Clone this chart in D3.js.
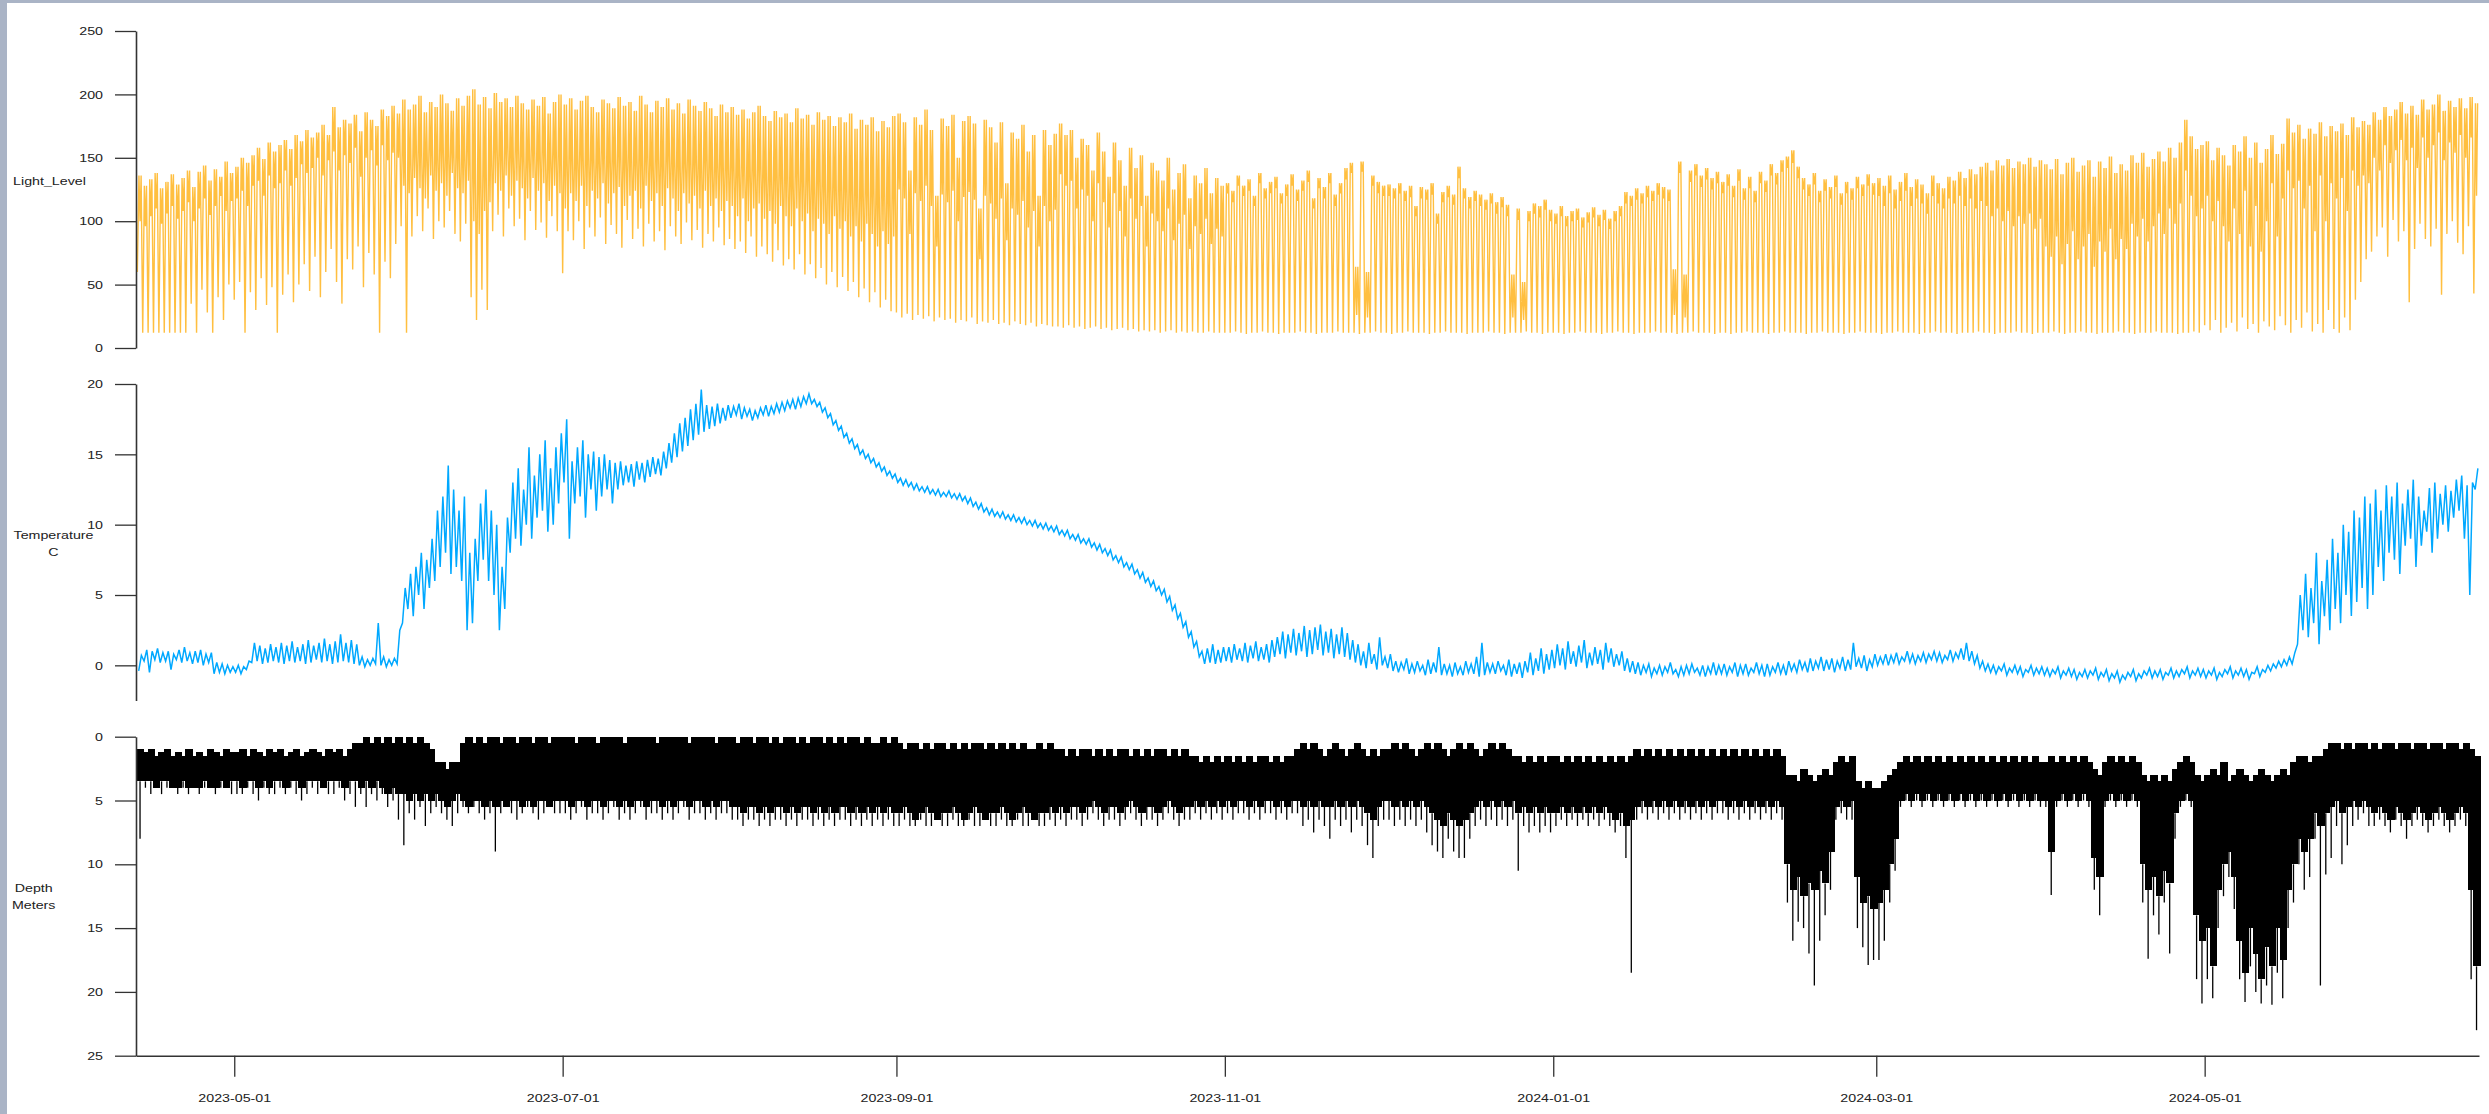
<!DOCTYPE html>
<html>
<head>
<meta charset="utf-8">
<script src="https://cdn.jsdelivr.net/npm/d3@7"></script>
<style>
  html, body { margin: 0; padding: 0; background: #fff; }
  body { width: 2489px; height: 1114px; overflow: hidden; }
  svg { display: block; }
  text { font-family: "Liberation Sans", Arial, sans-serif; fill: #222; }
</style>
</head>
<body>
<div id="chart"></div>
<script>
// one row per month, first row starts 2023-04-13
const monthStarts = ["2023-04-13", "2023-05-01", "2023-06-01", "2023-07-01", "2023-08-01", "2023-09-01",
  "2023-10-01", "2023-11-01", "2023-12-01", "2024-01-01", "2024-02-01", "2024-03-01",
  "2024-04-01", "2024-05-01", "2024-06-01"];

const xTickLabels = ["2023-05-01", "2023-07-01", "2023-09-01", "2023-11-01", "2024-01-01", "2024-03-01", "2024-05-01"];
const lightTicks = [0, 50, 100, 150, 200, 250];
const tempTicks = [0, 5, 10, 15, 20];
const depthTicks = [0, 5, 10, 15, 20, 25];

// Light level: daily peak, daytime low, night low
const lightPeak = [
  [136, 128, 133, 138, 126, 131, 137, 129, 134, 140, 127, 139, 144, 132, 141, 135, 147, 138],
  [143, 150, 146, 152, 158, 149, 162, 155, 160, 164, 157, 168, 163, 172, 166, 170, 176, 168, 190, 174, 180, 177, 184, 171, 186, 180, 175, 188, 183, 191, 185],
  [196, 188, 192, 199, 186, 194, 190, 200, 193, 187, 197, 191, 199, 204, 192, 198, 189, 201, 194, 197, 190, 199, 193, 188, 196, 191, 198, 185, 194, 200],
  [192, 197, 188, 195, 199, 190, 186, 196, 193, 189, 198, 191, 194, 187, 199, 192, 186, 195, 190, 197, 188, 193, 185, 196, 191, 187, 194, 189, 183, 192, 186],
  [190, 184, 188, 181, 186, 191, 183, 179, 187, 182, 185, 178, 189, 181, 184, 176, 186, 180, 183, 175, 182, 178, 185, 173, 180, 176, 182, 171, 179, 174, 183],
  [185, 178, 140, 182, 176, 188, 172, 120, 181, 175, 184, 150, 179, 183, 177, 110, 180, 174, 162, 178, 130, 170, 165, 176, 155, 168, 120, 172, 160, 169],
  [177, 168, 172, 150, 165, 160, 140, 170, 155, 135, 162, 148, 128, 158, 142, 152, 120, 146, 140, 132, 150, 125, 138, 145, 118, 136, 130, 142, 122, 134, 128],
  [130, 124, 136, 128, 133, 120, 138, 126, 131, 135, 122, 129, 137, 125, 132, 140, 118, 134, 127, 138, 121, 130, 142, 146, 64, 147, 60, 136, 131, 128],
  [129, 126, 130, 124, 128, 112, 127, 125, 130, 106, 123, 128, 121, 143, 126, 119, 124, 121, 117, 122, 115, 119, 113, 58, 110, 52, 108, 114, 112, 117, 109],
  [106, 112, 104, 108, 110, 103, 107, 111, 105, 109, 102, 108, 112, 123, 120, 126, 122, 128, 124, 130, 127, 125, 62, 147, 58, 140, 145, 136, 142, 134, 139],
  [131, 137, 128, 141, 126, 135, 124, 139, 132, 145, 138, 148, 151, 156, 143, 134, 129, 138, 124, 133, 127, 136, 122, 131, 126, 135, 129, 137, 130],
  [134, 128, 136, 125, 131, 138, 127, 133, 129, 122, 136, 130, 126, 135, 132, 139, 134, 141, 137, 143, 146, 140, 148, 144, 149, 142, 147, 145, 150, 143, 148],
  [145, 141, 149, 137, 146, 150, 139, 144, 148, 135, 147, 142, 151, 138, 145, 140, 152, 146, 154, 143, 149, 155, 147, 158, 150, 162, 180, 167, 157, 160],
  [163, 148, 158, 152, 144, 160, 155, 167, 150, 162, 146, 157, 168, 153, 161, 181, 170, 176, 165, 173, 169, 178, 167, 175, 171, 177, 168, 182, 174, 179, 176],
  [186, 180, 190, 183, 188, 194, 185, 191, 184, 196, 188, 192, 200, 187, 195, 190, 197, 189, 198, 193]
];

const lightBand = [
  [100, 96, 104, 110, 98, 106, 112, 102, 108, 115, 100, 110, 118, 105, 112, 120, 108, 116],
  [118, 124, 112, 128, 132, 120, 136, 126, 130, 140, 128, 134, 145, 138, 142, 150, 136, 148, 155, 140, 152, 146, 158, 135, 150, 156, 144, 160, 148, 154, 150],
  [128, 122, 134, 126, 118, 136, 124, 130, 120, 138, 126, 122, 132, 100, 90, 108, 115, 130, 124, 136, 120, 132, 126, 118, 134, 124, 130, 116, 128, 122],
  [110, 122, 116, 128, 112, 124, 118, 130, 114, 122, 127, 112, 120, 124, 110, 128, 116, 122, 112, 126, 118, 108, 122, 114, 120, 110, 124, 112, 118, 108, 116],
  [112, 104, 118, 100, 110, 114, 102, 108, 98, 112, 104, 96, 110, 100, 106, 92, 102, 98, 90, 104, 94, 100, 88, 96, 84, 98, 90, 80, 92, 82, 88],
  [125, 118, 90, 122, 116, 128, 112, 80, 121, 115, 124, 100, 119, 123, 117, 70, 120, 114, 102, 118, 85, 110, 105, 116, 95, 108, 80, 112, 100, 109],
  [137, 128, 132, 110, 125, 120, 100, 130, 115, 95, 122, 108, 88, 118, 102, 112, 80, 106, 100, 92, 110, 85, 98, 105, 78, 96, 90, 102, 82, 94, 88],
  [122, 115, 128, 120, 124, 112, 130, 118, 122, 126, 114, 120, 128, 116, 124, 131, 110, 126, 118, 130, 112, 122, 133, 138, 26, 139, 24, 128, 122, 120],
  [120, 118, 122, 116, 119, 104, 118, 117, 121, 98, 115, 119, 113, 134, 118, 110, 116, 112, 109, 114, 106, 111, 104, 24, 101, 22, 100, 106, 103, 109, 100],
  [98, 104, 96, 100, 101, 95, 99, 103, 96, 101, 94, 100, 104, 114, 112, 117, 114, 119, 116, 121, 118, 116, 26, 138, 24, 131, 136, 127, 133, 125, 130],
  [122, 128, 119, 132, 117, 126, 115, 130, 123, 136, 129, 139, 142, 146, 134, 125, 120, 129, 115, 124, 118, 127, 113, 122, 117, 126, 120, 128, 121],
  [120, 112, 122, 110, 116, 124, 112, 118, 114, 106, 120, 114, 110, 118, 114, 120, 112, 118, 110, 116, 112, 104, 110, 100, 108, 96, 104, 98, 106, 94, 102],
  [80, 72, 88, 66, 82, 92, 70, 80, 90, 64, 84, 76, 94, 70, 86, 78, 98, 88, 102, 84, 96, 106, 90, 110, 98, 114, 140, 120, 104, 110],
  [120, 100, 116, 96, 84, 110, 90, 124, 80, 112, 76, 100, 130, 88, 118, 140, 126, 132, 110, 128, 92, 136, 100, 130, 118, 134, 108, 140, 128, 136, 130],
  [150, 140, 160, 146, 156, 164, 148, 158, 142, 166, 150, 160, 170, 148, 162, 154, 168, 150, 166, 120]
];

const lightNight = [
  [60, 12, 12, 12, 12, 12, 12, 12, 12, 12, 35, 12, 46, 28, 12, 40, 22, 50],
  [38, 52, 12, 44, 30, 55, 34, 48, 12, 42, 58, 36, 50, 66, 45, 72, 40, 60, 78, 52, 35, 70, 62, 80, 48, 75, 58, 12, 68, 55, 82],
  [96, 12, 88, 104, 92, 110, 86, 100, 95, 108, 90, 84, 98, 40, 22, 46, 30, 92, 105, 88, 110, 96, 102, 85, 108, 93, 99, 87, 104, 92],
  [59, 92, 85, 100, 78, 95, 88, 103, 82, 97, 90, 79, 101, 86, 94, 80, 98, 84, 92, 77, 96, 88, 82, 99, 85, 93, 79, 90, 84, 95, 81],
  [86, 78, 84, 75, 88, 72, 80, 74, 68, 77, 65, 70, 62, 74, 58, 66, 55, 63, 50, 60, 48, 56, 45, 52, 40, 47, 36, 44, 32, 38, 29],
  [28, 24, 27, 22, 26, 23, 25, 21, 24, 22, 23, 20, 22, 21, 24, 19, 21, 20, 22, 19, 20, 18, 21, 19, 18, 20, 17, 19, 18, 17],
  [17, 16, 18, 16, 17, 15, 16, 17, 15, 16, 14, 15, 16, 14, 15, 13, 14, 13, 14, 12, 13, 14, 12, 13, 12, 13, 12, 12, 13, 12, 12],
  [12, 12, 13, 12, 11, 12, 12, 13, 12, 12, 11, 12, 12, 12, 13, 12, 12, 11, 12, 12, 12, 13, 12, 12, 12, 11, 12, 12, 13, 12],
  [12, 11, 12, 12, 13, 12, 12, 12, 11, 12, 12, 13, 12, 12, 12, 11, 12, 12, 12, 13, 12, 12, 11, 12, 12, 12, 13, 12, 12, 11, 12],
  [12, 12, 11, 12, 12, 13, 12, 12, 12, 11, 12, 12, 13, 12, 12, 11, 12, 12, 12, 13, 12, 12, 12, 11, 12, 12, 13, 12, 12, 12, 11],
  [12, 12, 11, 12, 12, 13, 12, 12, 12, 11, 12, 12, 13, 12, 12, 12, 11, 12, 12, 13, 12, 12, 12, 11, 12, 12, 13, 12, 12],
  [12, 11, 12, 12, 13, 12, 12, 12, 11, 12, 12, 13, 12, 12, 12, 11, 12, 12, 12, 13, 12, 12, 11, 12, 12, 12, 13, 12, 12, 11, 12],
  [12, 12, 13, 12, 11, 12, 12, 13, 12, 12, 11, 12, 12, 12, 13, 12, 12, 11, 12, 12, 12, 13, 12, 12, 12, 11, 12, 12, 13, 12],
  [18, 14, 22, 12, 16, 20, 13, 24, 15, 19, 12, 21, 17, 14, 25, 18, 12, 22, 16, 28, 13, 19, 12, 30, 15, 12, 24, 14, 38, 52, 70],
  [76, 88, 95, 72, 101, 84, 92, 36, 78, 98, 86, 80, 94, 42, 90, 100, 83, 74, 96, 43]
];

// Temperature C: daily low and high
const tempLow = [
  [-0.4, 0.3, -0.5, 0.4, 0.2, 0.3, -0.3, 0.4, 0.2, 0.3, 0.1, 0.2, 0.0, 0.2, -0.6, -0.5, -0.6, -0.5],
  [-0.5, -0.6, -0.3, 0.2, 0.3, 0.1, 0.2, 0.3, 0.2, 0.1, 0.3, 0.2, 0.3, 0.1, 0.2, 0.4, 0.2, 0.3, 0.1, 0.2, 0.3, 0.2, 0.1, 0.0, -0.1, 0.0, 0.1, 0.0, -0.1, 0.0, 0.1],
  [3.0, 4.0, 3.5, 5.0, 4.0, 5.5, 6.0, 7.0, 8.0, 6.5, 7.0, 6.0, 2.5, 3.0, 6.0, 7.5, 6.0, 5.0, 2.5, 4.0, 8.0, 9.0, 8.5, 10.0, 9.0, 10.5, 11.0, 9.5, 10.0, 11.5],
  [13.0, 9.0, 11.5, 12.0, 10.5, 12.5, 11.0, 12.0, 12.5, 11.5, 12.5, 12.8, 13.0, 12.7, 13.2, 13.0, 13.4, 13.6, 13.5, 14.0, 14.4, 14.8, 15.2, 15.6, 16.0, 16.4, 16.6, 16.8, 17.0, 17.2, 17.4],
  [17.6, 17.8, 17.5, 17.7, 17.4, 17.6, 17.8, 17.7, 17.9, 18.0, 18.1, 18.3, 18.2, 18.4, 18.6, 18.6, 18.4, 18.0, 17.6, 17.1, 16.7, 16.2, 15.8, 15.4, 15.0, 14.7, 14.4, 14.1, 13.8, 13.5, 13.3],
  [13.0, 12.8, 12.7, 12.5, 12.4, 12.3, 12.2, 12.1, 12.0, 12.0, 11.9, 11.8, 11.7, 11.5, 11.3, 11.1, 10.9, 10.7, 10.6, 10.5, 10.4, 10.3, 10.2, 10.1, 10.0, 9.9, 9.8, 9.7, 9.6, 9.5],
  [9.3, 9.2, 9.0, 8.9, 8.7, 8.6, 8.4, 8.2, 8.0, 7.8, 7.5, 7.3, 7.0, 6.8, 6.5, 6.2, 5.9, 5.6, 5.3, 5.0, 4.5, 3.9, 3.3, 2.7, 2.0, 1.3, 0.6, 0.1, 0.2, 0.1, 0.2],
  [0.3, 0.2, 0.4, 0.3, 0.2, 0.5, 0.3, 0.4, 0.2, 0.6, 0.8, 0.5, 0.9, 0.7, 1.0, 0.6, 0.8, 1.1, 0.7, 0.9, 0.5, 0.8, 0.6, 0.4, 0.2, 0.0, -0.2, 0.1, -0.3, 0.0],
  [-0.2, -0.4, -0.5, -0.3, -0.6, -0.5, -0.4, -0.7, -0.6, -0.5, -0.7, -0.6, -0.8, -0.6, -0.7, -0.5, -0.6, -0.8, -0.7, -0.5, -0.6, -0.4, -0.7, -0.8, -0.6, -0.9, -0.5, -0.7, -0.4, -0.6, -0.3],
  [-0.2, 0.0, -0.3, 0.1, -0.1, 0.2, -0.2, 0.0, 0.1, -0.3, 0.2, -0.1, 0.0, -0.4, -0.5, -0.6, -0.7, -0.5, -0.8, -0.6, -0.7, -0.5, -0.6, -0.8, -0.7, -0.6, -0.5, -0.7, -0.8, -0.6, -0.7],
  [-0.6, -0.7, -0.5, -0.8, -0.6, -0.7, -0.5, -0.6, -0.8, -0.7, -0.5, -0.6, -0.7, -0.4, -0.5, -0.3, -0.5, -0.4, -0.2, -0.4, -0.3, -0.5, -0.2, -0.4, -0.3, -0.1, -0.2, -0.4, -0.1],
  [0.0, 0.1, 0.0, 0.2, 0.1, 0.3, 0.2, 0.1, 0.3, 0.2, 0.4, 0.3, 0.2, 0.4, 0.3, 0.5, 0.4, 0.3, 0.1, -0.2, -0.4, -0.5, -0.6, -0.4, -0.7, -0.5, -0.6, -0.8, -0.5, -0.7, -0.6],
  [-0.7, -0.8, -0.6, -0.9, -0.7, -0.8, -1.0, -0.8, -0.9, -0.7, -1.0, -0.8, -1.1, -0.9, -1.2, -1.0, -0.8, -1.1, -0.9, -0.7, -0.9, -0.8, -1.0, -0.7, -0.9, -0.8, -0.6, -0.9, -0.7, -0.8],
  [-0.9, -0.7, -1.0, -0.8, -0.6, -0.9, -0.7, -0.8, -1.0, -0.6, -0.8, -0.5, -0.4, -0.2, -0.1, 0.0, 0.1, 1.5, 2.5, 2.0, 3.0, 1.5, 3.5, 2.5, 4.0, 3.0, 5.0, 3.5, 4.5, 5.5, 4.0],
  [5.0, 7.0, 6.0, 8.0, 7.5, 6.5, 8.5, 9.0, 7.0, 8.5, 9.5, 8.0, 9.0, 10.0, 9.5, 10.5, 11.0, 9.0, 5.0, 12.5]
];

const tempHigh = [
  [0.7, 1.1, 1.0, 1.2, 0.9, 1.0, 0.8, 1.1, 1.3, 0.9, 1.0, 1.1, 0.8, 0.9, 0.2, 0.1, 0.0, -0.1],
  [0.0, -0.1, 0.3, 1.6, 1.4, 1.2, 1.5, 1.3, 1.6, 1.4, 1.7, 1.3, 1.5, 1.8, 1.4, 1.6, 1.9, 1.5, 1.7, 2.2, 1.6, 1.8, 1.5, 0.6, 0.4, 0.5, 3.0, 0.6, 0.4, 0.5, 2.5],
  [5.5, 6.5, 7.0, 8.0, 7.5, 9.0, 11.0, 12.0, 14.2, 12.5, 11.0, 12.0, 8.0, 9.0, 11.5, 12.5, 11.0, 10.0, 7.0, 10.5, 13.0, 14.0, 12.5, 15.5, 13.5, 15.0, 16.0, 14.0, 15.5, 16.5],
  [17.5, 14.5, 15.5, 16.0, 15.0, 15.2, 14.8, 15.0, 14.6, 14.4, 14.5, 14.2, 14.3, 14.5, 14.4, 14.6, 14.8, 14.7, 15.2, 15.8, 16.5, 17.2, 17.6, 18.2, 18.6, 19.6, 18.5, 18.4, 18.6, 18.3, 18.5],
  [18.4, 18.6, 18.3, 18.2, 18.1, 18.3, 18.5, 18.4, 18.6, 18.7, 18.8, 18.9, 19.0, 19.1, 19.3, 18.9, 18.7, 18.3, 17.9, 17.4, 17.0, 16.5, 16.1, 15.7, 15.3, 15.0, 14.7, 14.4, 14.1, 13.8, 13.6],
  [13.3, 13.2, 13.0, 12.9, 12.7, 12.7, 12.5, 12.5, 12.3, 12.4, 12.2, 12.2, 12.0, 11.9, 11.6, 11.5, 11.2, 11.1, 10.9, 10.9, 10.7, 10.7, 10.5, 10.5, 10.3, 10.3, 10.1, 10.1, 9.9, 9.9],
  [9.6, 9.6, 9.3, 9.3, 9.0, 9.0, 8.7, 8.6, 8.3, 8.2, 7.8, 7.7, 7.3, 7.2, 6.8, 6.6, 6.2, 6.0, 5.6, 5.4, 4.9, 4.3, 3.7, 3.1, 2.4, 1.7, 1.0, 1.2, 1.5, 1.1, 1.3],
  [1.3, 1.5, 1.2, 1.6, 1.4, 1.7, 1.3, 1.5, 1.8, 2.0, 2.4, 2.2, 2.6, 2.3, 2.8, 2.5, 2.7, 2.9, 2.4, 2.6, 2.2, 2.7, 2.3, 1.8, 1.5, 1.0, 1.6, 0.8, 2.0, 0.6],
  [0.8, 0.3, 0.2, 0.5, 0.1, 0.3, 0.0, 0.4, 0.2, 1.3, 0.1, 0.0, 0.2, -0.1, 0.3, 0.1, 0.6, 1.6, 0.2, 0.1, 0.3, 0.0, 0.4, 0.1, 0.2, 0.3, 0.9, 0.5, 1.2, 0.8, 1.1],
  [1.5, 1.2, 1.7, 1.0, 1.4, 1.8, 0.9, 1.3, 1.1, 1.6, 1.2, 0.8, 1.0, 0.5, 0.3, 0.2, 0.0, 0.1, -0.2, 0.0, -0.1, 0.2, -0.3, -0.1, 0.0, 0.1, -0.2, 0.0, -0.1, 0.2, 0.0],
  [0.1, -0.1, 0.2, 0.0, 0.1, -0.2, 0.2, 0.0, 0.1, -0.1, 0.2, 0.0, 0.3, 0.1, 0.4, 0.2, 0.5, 0.3, 0.6, 0.4, 0.5, 0.3, 0.6, 0.4, 1.6, 0.5, 0.7, 0.4, 0.8],
  [0.6, 0.8, 0.7, 0.9, 0.6, 1.0, 0.8, 0.7, 0.9, 0.8, 1.0, 0.9, 0.7, 1.1, 0.9, 1.2, 1.6, 1.0, 0.7, 0.3, 0.1, 0.0, -0.1, 0.1, -0.2, 0.0, -0.1, -0.3, 0.0, -0.2, -0.1],
  [-0.2, -0.3, -0.1, -0.4, -0.2, -0.3, -0.5, -0.3, -0.4, -0.2, -0.5, -0.3, -0.6, -0.4, -0.7, -0.5, -0.3, -0.6, -0.4, -0.2, -0.4, -0.3, -0.5, -0.2, -0.4, -0.3, -0.1, -0.4, -0.2, -0.3],
  [-0.4, -0.2, -0.5, -0.3, -0.1, -0.4, -0.2, -0.3, -0.5, -0.1, -0.3, 0.0, 0.1, 0.3, 0.4, 0.6, 0.9, 5.0, 6.5, 5.5, 8.0, 6.0, 7.5, 9.0, 8.0, 10.0, 9.5, 11.0, 10.5, 12.0, 11.5],
  [12.5, 11.0, 12.8, 12.0, 13.0, 11.5, 12.5, 13.2, 12.0, 11.0, 12.6, 13.0, 12.2, 12.8, 12.4, 13.2, 13.5, 12.8, 13.0, 14.0]
];

// Depth meters: daily shallowest, usual deepest, deepest dive
const depthTop = [
  [1.0, 1.2, 1.0, 1.5, 1.2, 1.0, 1.5, 1.2, 1.5, 1.0, 1.5, 1.2, 1.5, 1.0, 1.2, 1.5, 1.0, 1.2],
  [1.2, 1.0, 1.5, 1.0, 1.2, 1.5, 1.0, 1.2, 1.0, 1.5, 1.2, 1.0, 1.5, 1.2, 1.0, 1.2, 1.5, 1.0, 1.2, 1.0, 1.5, 1.0, 0.5, 0.5, 0.0, 0.5, 0.0, 0.5, 0.0, 0.5, 0.0],
  [0.5, 0.0, 0.5, 0.0, 0.5, 1.0, 2.0, 2.0, 2.5, 2.0, 2.0, 0.5, 0.0, 0.5, 0.0, 0.5, 0.0, 0.0, 0.5, 0.0, 0.0, 0.5, 0.0, 0.0, 0.5, 0.0, 0.0, 0.5, 0.0, 0.0],
  [0.0, 0.0, 0.5, 0.0, 0.0, 0.0, 0.5, 0.0, 0.0, 0.0, 0.0, 0.5, 0.0, 0.0, 0.0, 0.0, 0.0, 0.5, 0.0, 0.0, 0.0, 0.0, 0.0, 0.5, 0.0, 0.0, 0.0, 0.0, 0.5, 0.0, 0.0],
  [0.0, 0.5, 0.0, 0.0, 0.5, 0.0, 0.0, 0.5, 0.0, 0.5, 0.0, 0.0, 0.5, 0.0, 0.5, 0.0, 0.0, 0.5, 0.0, 0.5, 0.0, 0.5, 0.0, 0.0, 0.5, 0.0, 0.5, 0.5, 0.0, 0.5, 0.0],
  [0.5, 1.0, 0.5, 0.5, 1.0, 0.5, 1.0, 0.5, 0.5, 1.0, 0.5, 1.0, 0.5, 1.0, 0.5, 0.5, 1.0, 0.5, 1.0, 0.5, 1.0, 0.5, 1.0, 0.5, 1.0, 1.0, 0.5, 1.0, 0.5, 1.0],
  [1.0, 1.5, 1.0, 1.5, 1.0, 1.0, 1.5, 1.0, 1.5, 1.0, 1.5, 1.0, 1.0, 1.5, 1.0, 1.5, 1.0, 1.5, 1.0, 1.0, 1.5, 1.0, 1.5, 1.0, 1.5, 1.5, 2.0, 1.5, 2.0, 1.5, 2.0],
  [1.5, 2.0, 1.5, 2.0, 1.5, 2.0, 1.5, 1.5, 2.0, 1.5, 2.0, 1.5, 1.5, 1.0, 0.5, 1.0, 0.5, 1.0, 1.5, 1.0, 0.5, 1.0, 1.5, 1.0, 0.5, 1.0, 1.5, 1.0, 1.5, 1.0],
  [1.0, 0.5, 1.0, 0.5, 1.0, 1.5, 1.0, 0.5, 1.0, 0.5, 1.0, 1.5, 1.0, 0.5, 1.0, 0.5, 1.0, 1.5, 1.0, 0.5, 1.0, 0.5, 1.0, 1.5, 1.5, 2.0, 1.5, 2.0, 1.5, 2.0, 1.5],
  [1.5, 2.0, 1.5, 2.0, 1.5, 2.0, 1.5, 2.0, 1.5, 2.0, 1.5, 2.0, 1.5, 2.0, 1.5, 1.0, 1.5, 1.0, 1.5, 1.0, 1.5, 1.0, 1.5, 1.0, 1.5, 1.0, 1.5, 1.0, 1.5, 1.0, 1.5],
  [1.0, 1.5, 1.0, 1.5, 1.0, 1.5, 1.0, 1.5, 1.0, 1.5, 1.0, 1.5, 3.0, 3.0, 3.5, 2.5, 3.0, 3.5, 3.0, 2.5, 3.0, 2.0, 1.5, 2.0, 1.5, 3.5, 4.0, 3.5, 4.0],
  [4.0, 3.5, 3.0, 2.5, 2.0, 1.5, 2.0, 1.5, 2.0, 1.5, 2.0, 1.5, 2.0, 1.5, 2.0, 1.5, 2.0, 1.5, 2.0, 1.5, 2.0, 1.5, 2.0, 1.5, 2.0, 1.5, 2.0, 1.5, 2.0, 1.5, 2.0],
  [2.0, 1.5, 2.0, 1.5, 2.0, 1.5, 2.0, 1.5, 2.0, 2.5, 3.0, 2.0, 1.5, 2.0, 1.5, 2.0, 1.5, 2.0, 3.0, 3.5, 3.0, 3.5, 3.0, 3.5, 2.5, 2.0, 1.5, 2.0, 3.0, 3.5],
  [3.0, 2.5, 3.0, 2.0, 3.5, 3.0, 2.5, 3.0, 3.5, 3.0, 2.5, 3.0, 3.5, 3.0, 2.5, 3.0, 2.0, 1.5, 1.5, 2.0, 1.5, 1.5, 1.0, 0.5, 0.5, 1.0, 0.5, 1.0, 0.5, 0.5, 1.0],
  [0.5, 1.0, 0.5, 0.5, 1.0, 0.5, 0.5, 1.0, 0.5, 0.5, 1.0, 0.5, 0.5, 1.0, 0.5, 0.5, 1.0, 0.5, 1.0, 1.5]
];

const depthBottom = [
  [3.5, 3.5, 3.5, 4.0, 3.5, 3.5, 4.0, 4.0, 3.5, 4.0, 4.0, 4.0, 3.5, 4.0, 4.0, 3.5, 4.0, 3.5],
  [3.5, 4.0, 3.5, 3.5, 4.0, 3.5, 4.0, 3.5, 3.5, 4.0, 3.5, 3.5, 4.0, 3.5, 3.5, 3.5, 4.0, 3.5, 3.5, 3.5, 4.0, 3.5, 3.5, 4.0, 3.5, 4.0, 3.5, 4.0, 4.5, 4.0, 4.5],
  [4.5, 5.0, 4.5, 5.0, 4.5, 5.0, 4.5, 5.0, 5.5, 5.0, 4.5, 5.0, 5.5, 5.0, 5.0, 5.5, 5.0, 5.5, 5.0, 5.5, 5.0, 5.0, 5.5, 5.0, 5.5, 5.0, 5.0, 5.5, 5.0, 5.0],
  [5.0, 5.5, 5.0, 5.0, 5.5, 5.0, 5.0, 5.5, 5.0, 5.0, 5.5, 5.0, 5.5, 5.0, 5.0, 5.5, 5.0, 5.0, 5.5, 5.0, 5.5, 5.0, 5.0, 5.5, 5.0, 5.0, 5.5, 5.0, 5.5, 5.0, 5.0],
  [5.5, 5.5, 6.0, 5.5, 5.5, 6.0, 5.5, 6.0, 5.5, 5.5, 6.0, 5.5, 6.0, 5.5, 5.5, 6.0, 5.5, 6.0, 5.5, 6.0, 5.5, 5.5, 6.0, 5.5, 6.0, 5.5, 6.0, 5.5, 6.0, 5.5, 6.0],
  [6.0, 5.5, 6.0, 6.5, 6.0, 5.5, 6.0, 6.5, 6.0, 6.0, 5.5, 6.0, 6.5, 6.0, 5.5, 6.0, 6.5, 6.0, 6.0, 5.5, 6.0, 6.5, 6.0, 5.5, 6.0, 6.5, 6.0, 6.0, 5.5, 6.0],
  [5.5, 6.0, 5.5, 5.5, 6.0, 5.5, 5.0, 5.5, 6.0, 5.5, 5.5, 6.0, 5.5, 5.0, 5.5, 6.0, 5.5, 5.5, 6.0, 5.5, 5.0, 5.5, 6.0, 5.5, 5.5, 5.0, 5.5, 5.0, 5.5, 5.0, 5.5],
  [5.0, 5.5, 5.0, 5.0, 5.5, 5.0, 5.5, 5.0, 5.0, 5.5, 5.0, 5.5, 5.0, 5.0, 5.5, 5.0, 5.5, 5.0, 5.5, 5.5, 5.0, 5.5, 5.0, 5.5, 5.0, 5.5, 6.0, 6.5, 5.5, 5.0],
  [5.0, 5.5, 5.0, 5.5, 5.0, 5.5, 5.0, 5.5, 6.0, 6.5, 7.0, 6.0, 6.5, 7.0, 6.5, 6.0, 5.5, 5.0, 5.5, 5.0, 5.5, 5.0, 5.5, 5.0, 6.0, 5.5, 6.0, 5.5, 6.0, 5.5, 6.0],
  [6.0, 5.5, 6.0, 5.5, 6.0, 5.5, 6.0, 5.5, 6.0, 5.5, 6.0, 6.5, 6.0, 7.0, 6.5, 5.5, 5.0, 5.5, 5.0, 5.5, 5.0, 5.5, 5.0, 5.5, 5.0, 5.5, 5.0, 5.5, 5.0, 5.5, 5.0],
  [5.0, 5.5, 5.0, 5.5, 5.0, 5.5, 5.0, 5.5, 5.0, 5.5, 5.0, 5.5, 10.0, 12.0, 11.0, 12.5, 11.5, 12.0, 10.5, 11.5, 9.0, 5.5, 5.0, 5.5, 5.0, 11.0, 13.0, 12.5, 13.5],
  [13.0, 12.0, 10.0, 8.0, 5.0, 4.5, 5.0, 4.5, 5.0, 4.5, 5.0, 4.5, 5.0, 4.5, 5.0, 4.5, 5.0, 4.5, 5.0, 4.5, 5.0, 4.5, 5.0, 4.5, 5.0, 4.5, 5.0, 4.5, 5.0, 4.5, 5.0],
  [5.0, 9.0, 5.0, 4.5, 5.0, 4.5, 5.0, 4.5, 5.0, 9.5, 11.0, 5.0, 4.5, 5.0, 4.5, 5.0, 4.5, 5.0, 10.0, 12.0, 11.0, 12.5, 10.5, 11.5, 6.0, 5.0, 4.5, 5.0, 14.0, 16.0],
  [15.0, 18.0, 12.0, 10.0, 9.0, 11.0, 16.0, 18.5, 15.0, 17.0, 19.0, 16.5, 18.0, 15.0, 17.5, 12.0, 10.0, 8.0, 9.0, 8.0, 6.0, 7.0, 6.0, 5.5, 5.0, 6.0, 5.5, 5.0, 5.5, 5.0, 5.5],
  [6.0, 5.5, 6.0, 6.5, 5.5, 6.0, 6.5, 6.0, 5.5, 6.0, 6.5, 6.0, 5.5, 6.0, 6.5, 6.0, 5.5, 6.0, 12.0, 18.0]
];

const depthMax = [
  [8.0, 4.0, 4.5, 4.0, 4.5, 4.0, 4.0, 4.5, 4.0, 4.5, 4.0, 4.5, 4.0, 4.0, 4.5, 4.0, 4.0, 4.5],
  [4.5, 4.5, 4.0, 4.5, 5.0, 4.0, 4.5, 4.5, 4.0, 4.5, 4.0, 4.5, 5.0, 4.5, 4.0, 4.5, 4.0, 4.5, 4.5, 4.0, 5.0, 4.5, 5.5, 4.5, 5.5, 4.5, 5.0, 4.5, 5.5, 5.0, 6.5],
  [8.5, 6.0, 6.5, 5.5, 7.0, 6.0, 5.5, 6.0, 6.5, 7.0, 6.0, 5.5, 6.0, 5.5, 6.0, 6.5, 6.0, 9.0, 6.0, 5.5, 6.0, 6.5, 6.0, 5.5, 6.0, 6.5, 6.0, 5.5, 6.0, 6.0],
  [6.0, 6.5, 6.0, 5.5, 6.5, 6.0, 6.0, 6.5, 6.0, 5.5, 6.5, 6.0, 6.5, 6.0, 5.5, 6.5, 6.0, 6.0, 6.5, 6.0, 6.5, 6.0, 5.5, 6.5, 6.0, 6.0, 6.5, 6.0, 6.5, 6.0, 6.0],
  [6.5, 6.5, 7.0, 6.5, 6.5, 7.0, 6.5, 7.0, 6.5, 6.5, 7.0, 6.5, 7.0, 6.5, 6.5, 7.0, 6.5, 7.0, 6.5, 7.0, 6.5, 6.5, 7.0, 6.5, 7.0, 6.5, 7.0, 6.5, 7.0, 6.5, 7.0],
  [7.0, 6.5, 7.0, 7.0, 6.5, 7.0, 7.0, 6.5, 7.0, 7.0, 6.5, 7.0, 7.0, 6.5, 7.0, 7.0, 6.5, 7.0, 7.0, 6.5, 7.0, 7.0, 6.5, 7.0, 7.0, 6.5, 7.0, 7.0, 6.5, 7.0],
  [6.5, 7.0, 6.5, 6.5, 7.0, 6.5, 6.0, 6.5, 7.0, 6.5, 6.5, 7.0, 6.5, 6.0, 6.5, 7.0, 6.5, 6.5, 7.0, 6.5, 6.0, 6.5, 7.0, 6.5, 6.5, 6.0, 6.5, 6.0, 6.5, 6.0, 6.5],
  [6.0, 6.5, 6.0, 6.0, 6.5, 6.0, 6.5, 6.0, 6.0, 6.5, 6.0, 6.5, 6.0, 6.0, 7.0, 6.5, 7.5, 6.5, 7.0, 8.0, 6.5, 7.0, 6.5, 7.5, 6.5, 7.0, 8.5, 9.5, 7.0, 6.5],
  [6.5, 7.0, 6.5, 7.0, 6.5, 7.0, 6.5, 7.5, 8.5, 9.0, 9.5, 8.0, 9.0, 9.5, 9.5, 8.0, 7.0, 6.5, 7.0, 6.5, 7.0, 6.5, 7.0, 6.5, 10.5, 7.0, 7.5, 7.0, 7.5, 7.0, 7.5],
  [7.0, 6.5, 7.0, 6.5, 7.0, 6.5, 7.0, 6.5, 7.0, 6.5, 7.0, 7.5, 7.0, 9.5, 18.5, 6.5, 6.0, 6.5, 6.0, 6.5, 6.0, 6.5, 6.0, 6.5, 6.0, 6.5, 6.0, 6.5, 6.0, 6.5, 6.0],
  [6.0, 6.5, 6.0, 6.5, 6.0, 6.5, 6.0, 6.5, 6.0, 6.5, 6.0, 6.5, 13.0, 16.0, 14.5, 15.0, 17.0, 19.5, 16.0, 14.0, 12.0, 6.5, 6.0, 6.5, 6.5, 15.0, 16.5, 17.9, 17.5],
  [17.5, 16.0, 13.0, 10.5, 5.5, 5.0, 5.5, 5.0, 5.5, 5.0, 5.5, 5.0, 5.5, 5.0, 5.5, 5.0, 5.5, 5.0, 5.5, 5.0, 5.5, 5.0, 5.5, 5.0, 5.5, 5.0, 5.5, 5.0, 5.5, 5.0, 5.5],
  [5.5, 12.4, 5.5, 5.0, 5.5, 5.0, 5.5, 5.0, 5.5, 12.0, 14.0, 5.5, 5.0, 5.5, 5.0, 5.5, 5.0, 5.5, 13.0, 17.4, 14.0, 15.5, 13.0, 17.0, 8.0, 5.5, 5.0, 5.5, 19.0, 20.9],
  [19.0, 20.5, 15.0, 12.5, 11.0, 13.5, 19.0, 20.8, 18.0, 20.0, 20.9, 19.5, 21.0, 18.5, 20.5, 15.0, 13.0, 10.0, 12.0, 11.0, 8.0, 19.5, 10.8, 9.5, 7.0, 10.0, 8.5, 7.0, 6.5, 6.0, 7.0],
  [7.0, 6.5, 7.0, 7.5, 6.5, 7.0, 8.0, 7.0, 6.5, 7.0, 7.5, 7.0, 6.5, 7.0, 7.5, 7.0, 6.5, 7.0, 19.0, 23.0]
];

// ---------- layout ----------
const W = 2489, H = 1114;
const left = 136, right = 2479;
const SX = 1.24;  // source picture is stretched sideways, text too
const orange = "#ffbf40", blue = "#00a8ff", ink = "#222";

const parse = d3.utcParse("%Y-%m-%d");
const HOUR = 3600e3;

// turn month rows into dated records
function daily(rows) {
  const out = [];
  rows.forEach((vals, m) => {
    const start = parse(monthStarts[m]);
    vals.forEach((v, j) => out.push({ t: d3.utcDay.offset(start, j), v: v }));
  });
  return out;
}
const at = (t, h) => new Date(+t + h * HOUR);

const x = d3.scaleUtc()
  .domain([new Date(Date.UTC(2023, 3, 12, 18)), new Date(Date.UTC(2024, 5, 20, 23))])
  .range([left, right]);
const yLight = d3.scaleLinear().domain([0, 250]).range([348, 31]);
const yTemp = d3.scaleLinear().domain([-2.5, 20]).range([700.5, 384]);
const yDepth = d3.scaleLinear().domain([0, 25]).range([736.7, 1055.7]);

const svg = d3.select("#chart").append("svg")
  .attr("width", W).attr("height", H);

svg.append("rect").attr("width", W).attr("height", H).attr("fill", "#fff");
// grey window edge
svg.append("rect").attr("x", 0).attr("y", 0).attr("width", W).attr("height", 3).attr("fill", "#aab4c6");
svg.append("rect").attr("x", 0).attr("y", 0).attr("width", 7).attr("height", H).attr("fill", "#aab4c6");

// ---------- light ----------
const peak = daily(lightPeak), band = daily(lightBand), night = daily(lightNight);
const lightPts = [];
peak.forEach((p, i) => {
  lightPts.push([at(p.t, 0), night[i].v]);
  lightPts.push([at(p.t, 7.2), p.v]);
  lightPts.push([at(p.t, 12), band[i].v]);
  lightPts.push([at(p.t, 16.8), p.v]);
});
svg.append("path")
  .datum(lightPts)
  .attr("d", d3.line().x(d => x(d[0])).y(d => yLight(d[1])))
  .attr("fill", "none")
  .attr("stroke", orange)
  .attr("stroke-width", 1.4);

// ---------- temperature ----------
const tLo = daily(tempLow), tHi = daily(tempHigh);
const tempPts = [];
tLo.forEach((d, i) => {
  tempPts.push([at(d.t, 6), d.v]);
  tempPts.push([at(d.t, 18), tHi[i].v]);
});
svg.append("path")
  .datum(tempPts)
  .attr("d", d3.line().x(d => x(d[0])).y(d => yTemp(d[1])))
  .attr("fill", "none")
  .attr("stroke", blue)
  .attr("stroke-width", 1.5);

// ---------- depth ----------
const dTop = daily(depthTop), dBot = daily(depthBottom), dMax = daily(depthMax);
const depthG = svg.append("g");
depthG.selectAll("rect.band")
  .data(dTop)
  .join("rect")
  .attr("class", "band")
  .attr("shape-rendering", "crispEdges")
  .attr("x", d => Math.floor(x(d.t)))
  .attr("width", d => Math.ceil(x(d3.utcDay.offset(d.t, 1))) - Math.floor(x(d.t)) + 1)
  .attr("y", d => yDepth(d.v))
  .attr("height", (d, i) => yDepth(dBot[i].v) - yDepth(d.v))
  .attr("fill", "#000");
depthG.selectAll("line.dive")
  .data(dMax)
  .join("line")
  .attr("class", "dive")
  .attr("x1", d => x(at(d.t, 12)))
  .attr("x2", d => x(at(d.t, 12)))
  .attr("y1", (d, i) => yDepth(dBot[i].v))
  .attr("y2", d => yDepth(d.v))
  .attr("stroke", "#000")
  .attr("stroke-width", 1.3);

// ---------- axes ----------
function stretchText(g) {
  g.selectAll(".tick text").each(function () {
    const t = d3.select(this);
    const tx = +t.attr("x") || 0, ty = +t.attr("y") || 0;
    t.attr("x", null).attr("y", null)
      .attr("transform", `translate(${tx},${ty}) scale(${SX},1)`);
  });
}
function styleAxis(g) {
  g.select(".domain").attr("stroke", "#333").attr("stroke-width", 1.6);
  g.selectAll(".tick line").attr("stroke", "#333").attr("stroke-width", 1.3);
  g.selectAll(".tick text")
    .attr("fill", ink)
    .style("font-size", "11.5px")
    .style("font-family", "'Liberation Sans', Arial, sans-serif");
  stretchText(g);
}

[[yLight, lightTicks], [yTemp, tempTicks], [yDepth, depthTicks]].forEach(([s, ticks]) => {
  const g = svg.append("g").attr("transform", `translate(${left},0)`)
    .call(d3.axisLeft(s).tickValues(ticks).tickFormat(d3.format("d"))
      .tickSize(21).tickSizeOuter(0).tickPadding(12));
  styleAxis(g);
});

const gx = svg.append("g").attr("transform", `translate(0,${yDepth(25)})`)
  .call(d3.axisBottom(x).tickValues(xTickLabels.map(parse))
    .tickFormat(d3.utcFormat("%Y-%m-%d"))
    .tickSize(21).tickSizeOuter(0).tickPadding(17));
styleAxis(gx);

// ---------- panel titles ----------
const titles = [
  { lines: ["Light_Level"], cx: 49.5, cy: 181 },
  { lines: ["Temperature", "C"], cx: 53.5, cy: 534.5 },
  { lines: ["Depth", "Meters"], cx: 33.7, cy: 888 }
];
titles.forEach(tt => {
  tt.lines.forEach((s, k) => {
    svg.append("text")
      .attr("transform", `translate(${tt.cx},${tt.cy + k * 17}) scale(${SX},1)`)
      .attr("text-anchor", "middle")
      .attr("dy", "0.35em")
      .style("font-size", "11.5px")
      .attr("fill", ink)
      .text(s);
  });
});
</script>
</body>
</html>
